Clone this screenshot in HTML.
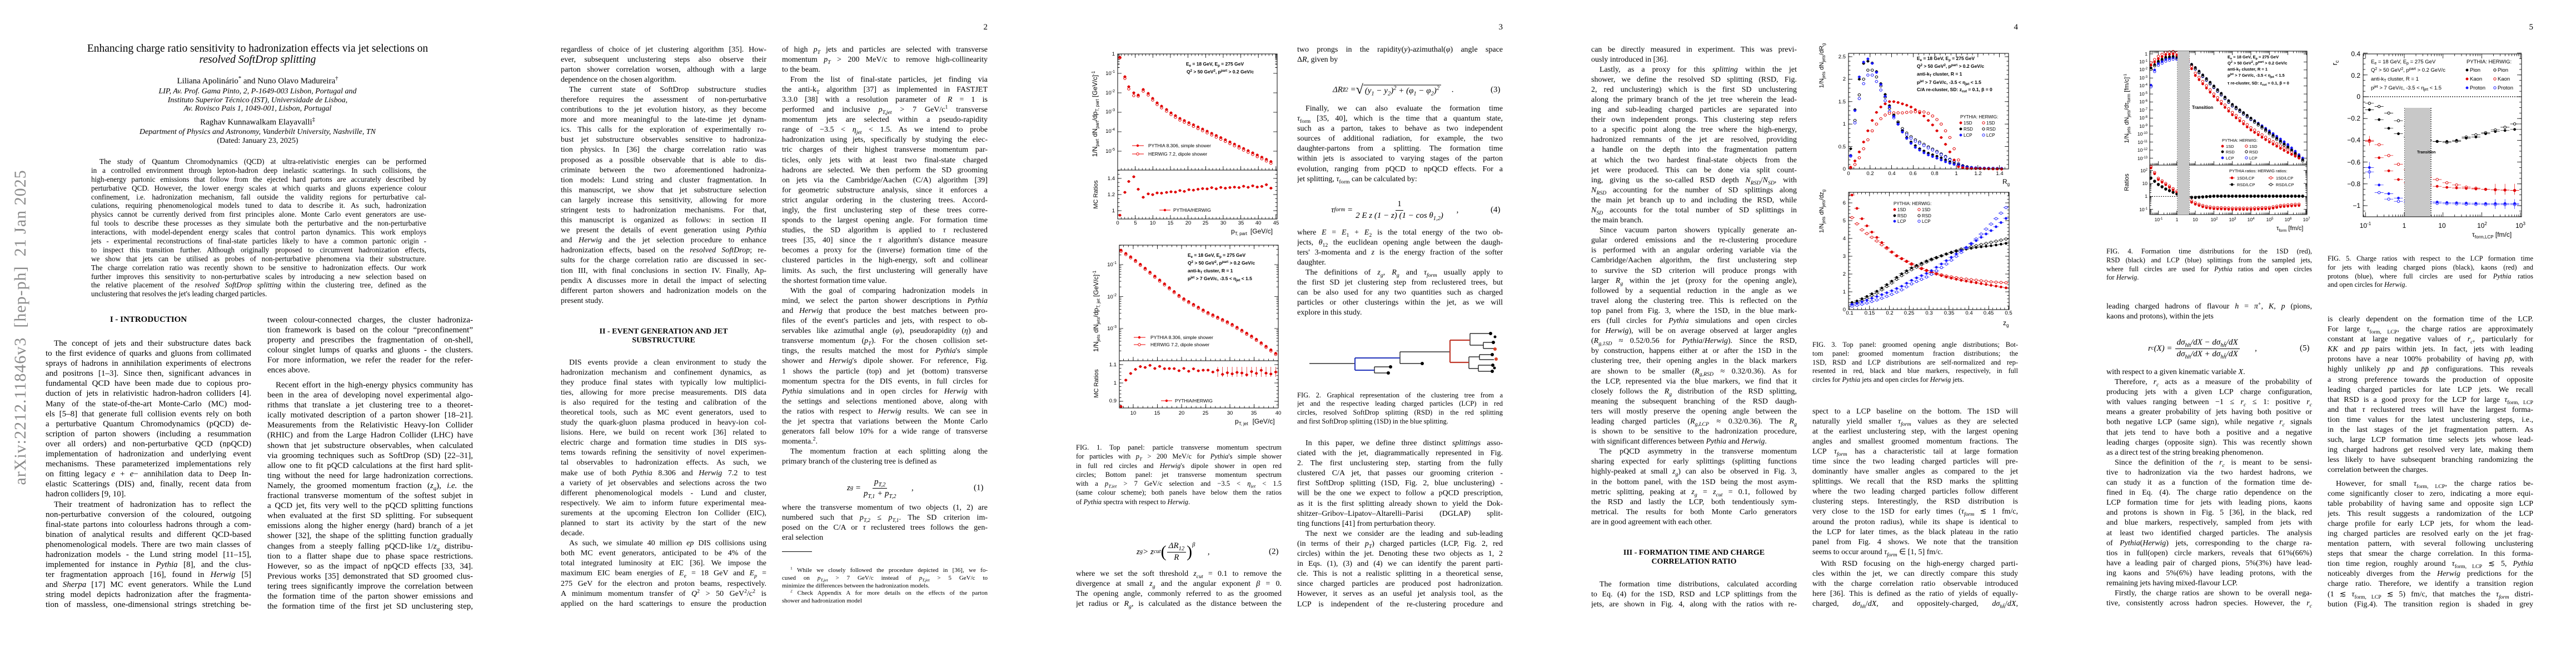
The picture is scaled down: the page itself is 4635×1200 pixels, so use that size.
<!DOCTYPE html>
<html><head><meta charset="utf-8">
<style>
body{margin:0;width:4635px;height:1200px;position:relative;background:#fff;overflow:hidden;font-family:"Liberation Serif",serif;color:#000}
.c{position:absolute;width:370px;font-size:14px;line-height:18.1px}
.c div{height:18.1px;overflow:hidden;text-align:justify;text-align-last:justify}
.c div.e{text-align-last:left}
.c div.i{text-indent:15px}
.p1{font-size:15px}
.cap{font-size:12.5px;line-height:15.8px}
.cap div{height:15.8px}
.fn{font-size:11px;line-height:13.8px}
.fn div{height:13.8px}
sub,sup{font-size:70%;line-height:0}
.a{position:absolute;white-space:nowrap}
.h{position:absolute;width:370px;text-align:center;font-weight:bold;font-size:14px;line-height:15.5px}
.pn{position:absolute;font-size:15px;width:30px;text-align:right;top:41px}
.eq{position:absolute;font-size:15px;white-space:nowrap;display:flex;align-items:center;transform:translateY(-50%);font-style:italic}
.eq .n{font-style:normal}
.fr{display:inline-flex;flex-direction:column;align-items:center;margin:0 5px}
.fr>span:first-child{border-bottom:1px solid #000;padding:0 3px 1px}
.fr>span{line-height:19px}
.en{position:absolute;font-size:15px;transform:translateY(-50%)}
svg text{font-family:"Liberation Sans",sans-serif}
</style></head><body>

<svg id="sv" width="4635" height="1200" style="position:absolute;left:0;top:0" xmlns="http://www.w3.org/2000/svg">
<g id="g"></g>
<!-- FIG 1 page 3 -->
<g transform="translate(1854,0)" font-size="9.5">
<rect x="157" y="97" width="287" height="209" fill="none" stroke="#000"/>
<rect x="157" y="306" width="287" height="88" fill="none" stroke="#000"/>
<g text-anchor="end"><text x="152" y="100">1</text><text x="152" y="135">10<tspan dy="-4" font-size="7">-1</tspan></text><text x="152" y="170">10<tspan dy="-4" font-size="7">-2</tspan></text><text x="152" y="204">10<tspan dy="-4" font-size="7">-3</tspan></text><text x="152" y="239">10<tspan dy="-4" font-size="7">-4</tspan></text><text x="152" y="275">10<tspan dy="-4" font-size="7">-5</tspan></text>
<text x="152" y="324">1.4</text><text x="152" y="353">1.2</text><text x="152" y="382">1</text></g>
<g text-anchor="middle"><text x="157" y="404">0</text><text x="189" y="404">5</text><text x="220" y="404">10</text><text x="252" y="404">15</text><text x="284" y="404">20</text><text x="315" y="404">25</text><text x="347" y="404">30</text><text x="379" y="404">35</text><text x="410" y="404">40</text><text x="442" y="404">45</text></g>
<text x="361" y="420" font-size="12">p<tspan font-size="8" dy="3">T, part</tspan><tspan dy="-3" dx="6">[GeV/c]</tspan></text>
<text transform="translate(120,205) rotate(-90)" text-anchor="middle" font-size="12">1/N<tspan font-size="8" dy="3">part</tspan><tspan dy="-3"> dN</tspan><tspan font-size="8" dy="3">part</tspan><tspan dy="-3">/dp</tspan><tspan font-size="8" dy="3">T, part</tspan><tspan dy="-3">  [GeV/c]</tspan><tspan font-size="8" dy="-4">-1</tspan></text>
<text transform="translate(121,350) rotate(-90)" text-anchor="middle" font-size="11">MC Ratios</text>
<g font-weight="bold" font-size="8.5"><text x="280" y="118">E<tspan font-size="6" dy="2">e</tspan><tspan dy="-2"> = 18 GeV, E</tspan><tspan font-size="6" dy="2">p</tspan><tspan dy="-2"> = 275 GeV</tspan></text><text x="281" y="132">Q<tspan font-size="6" dy="-3">2</tspan><tspan dy="3"> &gt; 50 GeV</tspan><tspan font-size="6" dy="-3">2</tspan><tspan dy="3">, p</tspan><tspan font-size="6" dy="-3">part</tspan><tspan dy="3"> &gt; 0.2 GeV/c</tspan></text></g>
<g font-size="8.5"><line x1="183" y1="262" x2="204" y2="262" stroke="#e00"/><circle cx="193" cy="262" r="2.2" fill="#e00"/><text x="212" y="265">PYTHIA 8.306, simple shower</text>
<line x1="183" y1="277" x2="204" y2="277" stroke="#e00"/><circle cx="193" cy="277" r="2.2" fill="#fff" stroke="#e00"/><text x="212" y="280">HERWIG 7.2, dipole shower</text>
<line x1="232" y1="378" x2="252" y2="378" stroke="#e00"/><circle cx="242" cy="378" r="2.2" fill="#e00"/><text x="257" y="381">PYTHIA/HERWIG</text></g>

<rect x="160" y="441" width="286" height="208" fill="none" stroke="#000"/>
<rect x="160" y="649" width="286" height="85" fill="none" stroke="#000"/>
<g text-anchor="end"><text x="155" y="479">10<tspan dy="-4" font-size="7">-1</tspan></text><text x="155" y="537">10<tspan dy="-4" font-size="7">-2</tspan></text><text x="155" y="594">10<tspan dy="-4" font-size="7">-3</tspan></text>
<text x="155" y="659">1.1</text><text x="155" y="692">1</text><text x="155" y="724">0.9</text></g>
<g text-anchor="middle"><text x="185" y="746">10</text><text x="228" y="746">15</text><text x="272" y="746">20</text><text x="315" y="746">25</text><text x="359" y="746">30</text><text x="402" y="746">35</text><text x="446" y="746">40</text></g>
<text x="368" y="762" font-size="12">p<tspan font-size="8" dy="3">T, jet</tspan><tspan dy="-3" dx="8">[GeV/c]</tspan></text>
<text transform="translate(122,560) rotate(-90)" text-anchor="middle" font-size="12">1/N<tspan font-size="8" dy="3">jets</tspan><tspan dy="-3"> dN</tspan><tspan font-size="8" dy="3">jets</tspan><tspan dy="-3">/dp</tspan><tspan font-size="8" dy="3">T, jet</tspan><tspan dy="-3">  [GeV/c]</tspan><tspan font-size="8" dy="-4">-1</tspan></text>
<text transform="translate(122,690) rotate(-90)" text-anchor="middle" font-size="11">MC Ratios</text>
<g font-weight="bold" font-size="8.5"><text x="283" y="462">E<tspan font-size="6" dy="2">e</tspan><tspan dy="-2"> = 18 GeV, E</tspan><tspan font-size="6" dy="2">p</tspan><tspan dy="-2"> = 275 GeV</tspan></text><text x="283" y="476">Q<tspan font-size="6" dy="-3">2</tspan><tspan dy="3"> &gt; 50 GeV</tspan><tspan font-size="6" dy="-3">2</tspan><tspan dy="3">, p</tspan><tspan font-size="6" dy="-3">part</tspan><tspan dy="3"> &gt; 0.2 GeV/c</tspan></text><text x="283" y="490">anti-k<tspan font-size="6" dy="2">T</tspan><tspan dy="-2"> cluster, R = 1</tspan></text><text x="283" y="504">p<tspan font-size="6" dy="-3">jet</tspan><tspan dy="3"> &gt; 7 GeV/c, -3.5 &lt; η</tspan><tspan font-size="6" dy="2">jet</tspan><tspan dy="-2"> &lt; 1.5</tspan></text></g>
<g font-size="8.5"><line x1="186" y1="607" x2="207" y2="607" stroke="#e00"/><circle cx="196" cy="607" r="2.2" fill="#e00"/><text x="216" y="610">PYTHIA 8.306, simple shower</text>
<line x1="186" y1="620" x2="207" y2="620" stroke="#e00"/><circle cx="196" cy="620" r="2.2" fill="#fff" stroke="#e00"/><text x="216" y="623">HERWIG 7.2, dipole shower</text>
<line x1="235" y1="721" x2="255" y2="721" stroke="#e00"/><circle cx="245" cy="721" r="2.2" fill="#e00"/><text x="260" y="724">PYTHIA/HERWIG</text></g>

<!-- FIG 2 tree -->
<g stroke-width="1.2" stroke="#000" fill="none">
<path d="M502 654H584"/><path d="M619 660V671M619 660H648M619 671H644M665 633V654M665 654H705M665 633H755"/>
<path d="M791 600V621M791 600H826M791 621H815M815 616V627M815 616H833M815 627H834"/>
<path d="M789 642V663M789 642H808M808 638V647M808 638H831M808 647H834M789 663H806M806 657V668M806 657H832M806 668H831"/>
<path d="M584 644V666M584 644H665M584 666H619" stroke="#2233bb" stroke-width="2"/>
<path d="M755 612V652M755 612H791M755 652H789" stroke="#c0392b" stroke-width="2.2"/>
</g>
<g fill="#000"><circle cx="648" cy="660" r="3"/><circle cx="644" cy="671" r="3"/><circle cx="705" cy="654" r="3"/><circle cx="828" cy="600" r="3"/><circle cx="836" cy="606" r="2.5"/><circle cx="833" cy="616" r="3"/><circle cx="831" cy="638" r="3"/><circle cx="832" cy="657" r="3"/><circle cx="831" cy="668" r="3"/><circle cx="835" cy="662" r="2.5"/><circle cx="836" cy="628" r="3" fill="#d9452b"/><circle cx="838" cy="646" r="3" fill="#d9452b"/></g>
</g>

<!-- FIG 3 page 4 -->
<g transform="translate(2781,0)" font-size="9.5">
<rect x="545" y="96" width="288" height="208" fill="none" stroke="#000"/>
<rect x="545" y="346" width="289" height="211" fill="none" stroke="#000"/>
<g text-anchor="end"><text x="540" y="105">2.5</text><text x="540" y="145">2</text><text x="540" y="186">1.5</text><text x="540" y="226">1</text><text x="540" y="267">0.5</text><text x="540" y="307">0</text>
<text x="540" y="368">6</text><text x="540" y="400">5</text><text x="540" y="432">4</text><text x="540" y="464">3</text><text x="540" y="496">2</text><text x="540" y="528">1</text><text x="540" y="560">0</text></g>
<g text-anchor="middle"><text x="545" y="315">0</text><text x="584" y="315">0.2</text><text x="623" y="315">0.4</text><text x="661" y="315">0.6</text><text x="700" y="315">0.8</text><text x="739" y="315">1</text><text x="778" y="315">1.2</text><text x="817" y="315">1.4</text>
<text x="547" y="566">0.1</text><text x="583" y="566">0.15</text><text x="619" y="566">0.2</text><text x="654" y="566">0.25</text><text x="690" y="566">0.3</text><text x="726" y="566">0.35</text><text x="762" y="566">0.4</text><text x="797" y="566">0.45</text><text x="833" y="566">0.5</text></g>
<text x="822" y="331" font-size="12">R<tspan font-size="8" dy="3">g</tspan></text>
<text x="823" y="585" font-size="12">z<tspan font-size="8" dy="3">g</tspan></text>
<text transform="translate(500,118) rotate(-90)" text-anchor="middle" font-size="11">1/N<tspan font-size="8" dy="3">jets</tspan><tspan dy="-3"> dN</tspan><tspan font-size="8" dy="3">jets</tspan><tspan dy="-3">/dR</tspan><tspan font-size="8" dy="3">g</tspan></text>
<text transform="translate(500,380) rotate(-90)" text-anchor="middle" font-size="11">1/N<tspan font-size="8" dy="3">jets</tspan><tspan dy="-3"> dN</tspan><tspan font-size="8" dy="3">jets</tspan><tspan dy="-3">/dz</tspan><tspan font-size="8" dy="3">g</tspan></text>
<g font-weight="bold" font-size="8.5"><text x="668" y="108">E<tspan font-size="6" dy="2">e</tspan><tspan dy="-2"> = 18 GeV, E</tspan><tspan font-size="6" dy="2">p</tspan><tspan dy="-2"> = 275 GeV</tspan></text><text x="668" y="122">Q<tspan font-size="6" dy="-3">2</tspan><tspan dy="3"> &gt; 50 GeV</tspan><tspan font-size="6" dy="-3">2</tspan><tspan dy="3">, p</tspan><tspan font-size="6" dy="-3">part</tspan><tspan dy="3"> &gt; 0.2 GeV/c</tspan></text><text x="668" y="136">anti-k<tspan font-size="6" dy="2">T</tspan><tspan dy="-2"> cluster, R = 1</tspan></text><text x="668" y="151">p<tspan font-size="6" dy="-3">jet</tspan><tspan dy="3"> &gt; 7 GeV/c, -3.5 &lt; η</tspan><tspan font-size="6" dy="2">jet</tspan><tspan dy="-2"> &lt; 1.5</tspan></text><text x="668" y="164">C/A re-cluster, SD: z<tspan font-size="6" dy="2">cut</tspan><tspan dy="-2"> = 0.1, β = 0</tspan></text></g>
<g font-size="8"><text x="746" y="213">PYTHIA: HERWIG:</text><text x="752" y="224">1SD</text><text x="752" y="235">RSD</text><text x="752" y="246">LCP</text><text x="793" y="224">1SD</text><text x="793" y="235">RSD</text><text x="793" y="246">LCP</text>
<text x="626" y="369">PYTHIA:  HERWIG:</text><text x="633" y="380">1SD</text><text x="633" y="391">RSD</text><text x="633" y="401">LCP</text><text x="677" y="380">1SD</text><text x="677" y="391">RSD</text><text x="677" y="401">LCP</text></g>
</g>

<!-- FIG 4 page 5 -->
<g transform="translate(3708,0)" font-size="9">
<rect x="160" y="92" width="283" height="205" fill="none" stroke="#000"/>
<rect x="160" y="297" width="283" height="89" fill="none" stroke="#000"/>
<rect x="210" y="92" width="21" height="294" fill="#c8c8c8"/>
<g text-anchor="end" font-size="8.5"><text x="156" y="100">1</text><text x="156" y="114">10<tspan dy="-3" font-size="6">-1</tspan></text><text x="156" y="128">10<tspan dy="-3" font-size="6">-2</tspan></text><text x="156" y="143">10<tspan dy="-3" font-size="6">-3</tspan></text><text x="156" y="157">10<tspan dy="-3" font-size="6">-4</tspan></text><text x="156" y="172">10<tspan dy="-3" font-size="6">-5</tspan></text><text x="156" y="186">10<tspan dy="-3" font-size="6">-6</tspan></text><text x="156" y="201">10<tspan dy="-3" font-size="6">-7</tspan></text><text x="156" y="215">10<tspan dy="-3" font-size="6">-8</tspan></text><text x="156" y="230">10<tspan dy="-3" font-size="6">-9</tspan></text><text x="156" y="244">10<tspan dy="-3" font-size="6">-10</tspan></text><text x="156" y="259">10<tspan dy="-3" font-size="6">-11</tspan></text><text x="156" y="273">10<tspan dy="-3" font-size="6">-12</tspan></text><text x="156" y="288">10<tspan dy="-3" font-size="6">-13</tspan></text>
<text x="156" y="310">10<tspan dy="-3" font-size="6">2</tspan></text><text x="156" y="333">10</text><text x="156" y="356">1</text><text x="156" y="380">10<tspan dy="-3" font-size="6">-1</tspan></text></g>
<g text-anchor="middle" font-size="8.5"><text x="176" y="398">10<tspan dy="-3" font-size="6">-1</tspan></text><text x="209" y="398">1</text><text x="242" y="398">10</text><text x="276" y="398">10<tspan dy="-3" font-size="6">2</tspan></text><text x="309" y="398">10<tspan dy="-3" font-size="6">3</tspan></text><text x="342" y="398">10<tspan dy="-3" font-size="6">4</tspan></text><text x="376" y="398">10<tspan dy="-3" font-size="6">5</tspan></text><text x="409" y="398">10<tspan dy="-3" font-size="6">6</tspan></text><text x="442" y="398">10<tspan dy="-3" font-size="6">7</tspan></text></g>
<text x="388" y="414" font-size="11">τ<tspan font-size="7" dy="3">form</tspan><tspan dy="-3"> [fm/c]</tspan></text>
<text transform="translate(122,195) rotate(-90)" text-anchor="middle" font-size="11">1/N<tspan font-size="8" dy="3">jets</tspan><tspan dy="-3"> dN</tspan><tspan font-size="8" dy="3">jets</tspan><tspan dy="-3">/dτ</tspan><tspan font-size="8" dy="3">form</tspan><tspan dy="-3">  [fm/c]</tspan><tspan font-size="7" dy="-4">-1</tspan></text>
<text transform="translate(122,328) rotate(-90)" text-anchor="middle" font-size="11">Ratios</text>
<text x="236" y="196" font-size="8" font-weight="bold">Transition</text>
<g font-weight="bold" font-size="7.5"><text x="300" y="105">E<tspan font-size="5.5" dy="2">e</tspan><tspan dy="-2"> = 18 GeV, E</tspan><tspan font-size="5.5" dy="2">p</tspan><tspan dy="-2"> = 275 GeV</tspan></text><text x="300" y="116">Q<tspan font-size="5.5" dy="-3">2</tspan><tspan dy="3"> &gt; 50 GeV</tspan><tspan font-size="5.5" dy="-3">2</tspan><tspan dy="3">, p</tspan><tspan font-size="5.5" dy="-3">part</tspan><tspan dy="3"> &gt; 0.2 GeV/c</tspan></text><text x="300" y="127">anti-k<tspan font-size="5.5" dy="2">T</tspan><tspan dy="-2"> cluster, R = 1</tspan></text><text x="300" y="138">p<tspan font-size="5.5" dy="-3">jet</tspan><tspan dy="3"> &gt; 7 GeV/c, -3.5 &lt; η</tspan><tspan font-size="5.5" dy="2">jet</tspan><tspan dy="-2"> &lt; 1.5</tspan></text><text x="300" y="152">τ re-cluster, SD: z<tspan font-size="5.5" dy="2">cut</tspan><tspan dy="-2"> = 0.1, β = 0</tspan></text></g>
<g font-size="7.5"><text x="290" y="255">PYTHIA: HERWIG:</text><text x="297" y="266">1SD</text><text x="297" y="276">RSD</text><text x="297" y="287">LCP</text><text x="339" y="266">1SD</text><text x="339" y="276">RSD</text><text x="339" y="287">LCP</text>
<text x="303" y="310">PYTHIA ratios:  HERWIG ratios:</text><text x="317" y="323">1SD/LCP</text><text x="317" y="335">RSD/LCP</text><text x="387" y="323">1SD/LCP</text><text x="387" y="335">RSD/LCP</text></g>
</g>

<!-- FIG 5 page 5 -->
<g transform="translate(3708,0)" font-size="12">
<rect x="619" y="194" width="46" height="196" fill="#c8c8c8"/>
<rect x="544" y="97" width="285" height="293" fill="none" stroke="#000"/>
<g text-anchor="end"><text x="539" y="101">0.4</text><text x="539" y="140">0.2</text><text x="539" y="178">0</text><text x="539" y="217">−0.2</text><text x="539" y="256">−0.4</text><text x="539" y="296">−0.6</text><text x="539" y="335">−0.8</text><text x="539" y="374">−1</text></g>
<g text-anchor="middle"><text x="548" y="410">10<tspan dy="-5" font-size="8">-1</tspan></text><text x="618" y="410">1</text><text x="686" y="410">10</text><text x="758" y="410">10<tspan dy="-5" font-size="8">2</tspan></text><text x="827" y="410">10<tspan dy="-5" font-size="8">3</tspan></text></g>
<text x="740" y="426" font-size="12">τ<tspan font-size="8" dy="3">form,LCP</tspan><tspan dy="-3"> [fm/c]</tspan></text>
<text transform="translate(497,113) rotate(-90)" text-anchor="middle" font-size="13">r<tspan font-size="9" dy="3">c</tspan></text>
<text x="641" y="276" font-size="7" font-weight="bold">Transition</text>
<g font-size="9.5"><text x="558" y="114">E<tspan font-size="7" dy="2">e</tspan><tspan dy="-2"> = 18 GeV, E</tspan><tspan font-size="7" dy="2">p</tspan><tspan dy="-2"> = 275 GeV</tspan></text><text x="558" y="129">Q<tspan font-size="7" dy="-3">2</tspan><tspan dy="3"> &gt; 50 GeV</tspan><tspan font-size="7" dy="-3">2</tspan><tspan dy="3">, p</tspan><tspan font-size="7" dy="-3">part</tspan><tspan dy="3"> &gt; 0.2 GeV/c</tspan></text><text x="558" y="145">anti-k<tspan font-size="7" dy="2">T</tspan><tspan dy="-2"> cluster, R = 1</tspan></text><text x="558" y="161">p<tspan font-size="7" dy="-3">jet</tspan><tspan dy="3"> &gt; 7 GeV/c, -3.5 &lt; η</tspan><tspan font-size="7" dy="2">jet</tspan><tspan dy="-2"> &lt; 1.5</tspan></text>
<text x="730" y="114">PYTHIA:  HERWIG:</text><text x="736" y="129">Pion</text><text x="736" y="145">Kaon</text><text x="736" y="161">Proton</text><text x="786" y="129">Pion</text><text x="786" y="145">Kaon</text><text x="786" y="161">Proton</text></g>
</g>
</svg>

<!-- sidebar -->
<div class="a" style="left:37px;top:589px;transform:translate(-50%,-50%) rotate(-90deg);font-size:30px;color:#8a8a8a;letter-spacing:1px">arXiv:2212.11846v3&nbsp; [hep-ph]&nbsp; 21 Jan 2025</div>

<!-- PAGE 1 -->
<div class="a" style="left:0;width:927px;text-align:center;top:78px;font-size:19.5px;line-height:20px">Enhancing charge ratio sensitivity to hadronization effects via jet selections on<br><i>resolved SoftDrop splitting</i></div>
<div class="a" style="left:0;width:927px;text-align:center;top:138px;font-size:15px;line-height:16px">Liliana Apolinário<sup>*</sup> and Nuno Olavo Madureira<sup>†</sup></div>
<div class="a" style="left:0;width:927px;text-align:center;top:157px;font-size:14px;line-height:15.5px;font-style:italic">LIP, Av. Prof. Gama Pinto, 2, P-1649-003 Lisbon, Portugal and<br>Instituto Superior Técnico (IST), Universidade de Lisboa,<br>Av. Rovisco Pais 1, 1049-001, Lisbon, Portugal</div>
<div class="a" style="left:0;width:927px;text-align:center;top:212px;font-size:15px;line-height:16px">Raghav Kunnawalkam Elayavalli<sup>‡</sup></div>
<div class="a" style="left:0;width:927px;text-align:center;top:230px;font-size:14px;line-height:16px"><i>Department of Physics and Astronomy, Vanderbilt University, Nashville, TN</i><br>(Dated: January 23, 2025)</div>
<div class="c" style="left:164px;top:283px;width:603px;font-size:13.2px;line-height:15.9px">
<div class="i" style="height:15.9px">The study of Quantum Chromodynamics (QCD) at ultra-relativistic energies can be performed</div>
<div style="height:15.9px">in a controlled environment through lepton-hadron deep inelastic scatterings. In such collisions, the</div>
<div style="height:15.9px">high-energy partonic emissions that follow from the ejected hard partons are accurately described by</div>
<div style="height:15.9px">perturbative QCD. However, the lower energy scales at which quarks and gluons experience colour</div>
<div style="height:15.9px">confinement, i.e. hadronization mechanism, fall outside the validity regions for perturbative cal-</div>
<div style="height:15.9px">culations, requiring phenomenological models tuned to data to describe it. As such, hadronization</div>
<div style="height:15.9px">physics cannot be currently derived from first principles alone. Monte Carlo event generators are use-</div>
<div style="height:15.9px">ful tools to describe these processes as they simulate both the perturbative and the non-perturbative</div>
<div style="height:15.9px">interactions, with model-dependent energy scales that control parton dynamics. This work employs</div>
<div style="height:15.9px">jets - experimental reconstructions of final-state particles likely to have a common partonic origin -</div>
<div style="height:15.9px">to inspect this transition further. Although originally proposed to circumvent hadronization effects,</div>
<div style="height:15.9px">we show that jets can be utilised as probes of non-perturbative phenomena via their substructure.</div>
<div style="height:15.9px">The charge correlation ratio was recently shown to be sensitive to hadronization effects. Our work</div>
<div style="height:15.9px">further improves this sensitivity to non-perturbative scales by introducing a new selection based on</div>
<div style="height:15.9px">the relative placement of the <i>resolved SoftDrop splitting</i> within the clustering tree, defined as the</div>
<div class="e" style="height:15.9px">unclustering that resolves the jet's leading charged particles.</div>
</div>
<div class="h" style="left:82px;top:568px;font-size:15px">I - INTRODUCTION</div>
<div class="c p1" style="left:82px;top:609px">
<div class="i">The concept of jets and their substructure dates back</div>
<div>to the first evidence of quarks and gluons from collimated</div>
<div>sprays of hadrons in annihilation experiments of electrons</div>
<div>and positrons [1–3]. Since then, significant advances in</div>
<div>fundamental QCD have been made due to copious pro-</div>
<div>duction of jets in relativistic hadron-hadron colliders [4].</div>
<div>Many of the state-of-the-art Monte-Carlo (MC) mod-</div>
<div>els [5–8] that generate full collision events rely on both</div>
<div>a perturbative Quantum Chromodynamics (pQCD) de-</div>
<div>scription of parton showers (including a resummation</div>
<div>over all orders) and non-perturbative QCD (npQCD)</div>
<div>implementation of hadronization and underlying event</div>
<div>mechanisms. These parameterized implementations rely</div>
<div>on fitting legacy <i>e</i> + <i>e</i>− annihilation data to Deep In-</div>
<div>elastic Scatterings (DIS) and, finally, recent data from</div>
<div class="e">hadron colliders [9, 10].</div>
<div class="i">Their treatment of hadronization has to reflect the</div>
<div>non-perturbative conversion of the coloured, outgoing</div>
<div>final-state partons into colourless hadrons through a com-</div>
<div>bination of analytical results and different QCD-based</div>
<div>phenomenological models. There are two main classes of</div>
<div>hadronization models - the Lund string model [11–15],</div>
<div>implemented for instance in <i>Pythia</i> [8], and the clus-</div>
<div>ter fragmentation approach [16], found in <i>Herwig</i> [5]</div>
<div>and <i>Sherpa</i> [17] MC event generators. While the Lund</div>
<div>string model depicts hadronization after the fragmenta-</div>
<div>tion of massless, one-dimensional strings stretching be-</div>
</div>
<div class="c p1" style="left:481px;top:567px">
<div>tween colour-connected charges, the cluster hadroniza-</div>
<div>tion framework is based on the colour “preconfinement”</div>
<div>property and prescribes the fragmentation of on-shell,</div>
<div>colour singlet lumps of quarks and gluons - the clusters.</div>
<div>For more information, we refer the reader for the refer-</div>
<div class="e">ences above.</div>
</div>
<div class="c p1" style="left:481px;top:684px">
<div class="i">Recent effort in the high-energy physics community has</div>
<div>been in the area of developing novel experimental algo-</div>
<div>rithms that translate a jet clustering tree to a theoret-</div>
<div>ically motivated description of a parton shower [18–21].</div>
<div>Measurements from the Relativistic Heavy-Ion Collider</div>
<div>(RHIC) and from the Large Hadron Collider (LHC) have</div>
<div>shown that jet substructure observables, when calculated</div>
<div>via grooming techniques such as SoftDrop (SD) [22–31],</div>
<div>allow one to fit pQCD calculations at the first hard split-</div>
<div>ting without the need for large hadronization corrections.</div>
<div>Namely, the groomed momentum fraction (<i>z<sub>g</sub></i>), <i>i.e.</i> the</div>
<div>fractional transverse momentum of the softest subjet in</div>
<div>a QCD jet, fits very well to the pQCD splitting functions</div>
<div>when evaluated at the first SD splitting. For subsequent</div>
<div>emissions along the higher energy (hard) branch of a jet</div>
<div>shower [32], the shape of the splitting function gradually</div>
<div>changes from a steeply falling pQCD-like 1/<i>z<sub>g</sub></i> distribu-</div>
<div>tion to a flatter shape due to phase space restrictions.</div>
<div>However, so as the impact of npQCD effects [33, 34].</div>
<div>Previous works [35] demonstrated that SD groomed clus-</div>
<div>tering trees significantly improve the correlation between</div>
<div>the formation time of the parton shower emissions and</div>
<div>the formation time of the first jet SD unclustering step,</div>
</div>

<!-- PAGE 2 -->
<div class="pn" style="left:1747px">2</div>
<div class="c" style="left:1009px;top:80.5px">
<div>regardless of choice of jet clustering algorithm [35]. How-</div>
<div>ever, subsequent unclustering steps also observe their</div>
<div>parton shower correlation worsen, although with a large</div>
<div class="e">dependence on the chosen algorithm.</div>
<div class="i">The current state of SoftDrop substructure studies</div>
<div>therefore requires the assessment of non-perturbative</div>
<div>contributions to the jet evolution history, as they become</div>
<div>more and more meaningful to the late-time jet dynam-</div>
<div>ics. This calls for the exploration of experimentally ro-</div>
<div>bust jet substructure observables sensitive to hadroniza-</div>
<div>tion physics. In [36] the charge correlation ratio was</div>
<div>proposed as a possible observable that is able to dis-</div>
<div>criminate between the two aforementioned hadroniza-</div>
<div>tion models: Lund string and cluster fragmentation. In</div>
<div>this manuscript, we show that jet substructure selection</div>
<div>can largely increase this sensitivity, allowing for more</div>
<div>stringent tests to hadronization mechanisms. For that,</div>
<div>this manuscript is organized as follows: in section II</div>
<div>we present the details of event generation using <i>Pythia</i></div>
<div>and <i>Herwig</i> and the jet selection procedure to enhance</div>
<div>hadronization effects, based on the <i>resolved SoftDrop</i>; re-</div>
<div>sults for the charge correlation ratio are discussed in sec-</div>
<div>tion III, with final conclusions in section IV. Finally, Ap-</div>
<div>pendix A discusses more in detail the impact of selecting</div>
<div>different parton showers and hadronization models on the</div>
<div class="e">present study.</div>
</div>
<div class="h" style="left:1009px;top:589px">II - EVENT GENERATION AND JET<br>SUBSTRUCTURE</div>
<div class="c" style="left:1009px;top:643.5px">
<div class="i">DIS events provide a clean environment to study the</div>
<div>hadronization mechanism and confinement dynamics, as</div>
<div>they produce final states with typically low multiplici-</div>
<div>ties, allowing for more precise measurements. DIS data</div>
<div>is also required for the testing and calibration of the</div>
<div>theoretical tools, such as MC event generators, used to</div>
<div>study the quark-gluon plasma produced in heavy-ion col-</div>
<div>lisions. Here, we build on recent work [36] related to</div>
<div>electric charge and formation time studies in DIS sys-</div>
<div>tems towards refining the sensitivity of novel experimen-</div>
<div>tal observables to hadronization effects. As such, we</div>
<div>make use of both <i>Pythia</i> 8.306 and <i>Herwig</i> 7.2 to test</div>
<div>a variety of jet observables and selections across the two</div>
<div>different phenomenological models - Lund and cluster,</div>
<div>respectively. We aim to inform future experimental mea-</div>
<div>surements at the upcoming Electron Ion Collider (EIC),</div>
<div>planned to start its activity by the start of the new</div>
<div class="e">decade.</div>
<div class="i">As such, we simulate 40 million <i>ep</i> DIS collisions using</div>
<div>both MC event generators, anticipated to be 4% of the</div>
<div>total integrated luminosity at EIC [36]. We impose the</div>
<div>maximum EIC beam energies of <i>E<sub>e</sub></i> = 18 GeV and <i>E<sub>p</sub></i> =</div>
<div>275 GeV for the electron and proton beams, respectively.</div>
<div>A minimum momentum transfer of <i>Q</i><sup>2</sup> &gt; 50 GeV<sup>2</sup>/c<sup>2</sup> is</div>
<div>applied on the hard scatterings to ensure the production</div>
</div>
<div class="c" style="left:1407px;top:80.5px">
<div>of high <i>p<sub>T</sub></i> jets and particles are selected with transverse</div>
<div>momentum <i>p<sub>T</sub></i> &gt; 200 MeV/c to remove high-collinearity</div>
<div class="e">to the beam.</div>
<div class="i">From the list of final-state particles, jet finding via</div>
<div>the anti-k<sub>T</sub> algorithm [37] as implemented in FASTJET</div>
<div>3.3.0 [38] with a resolution parameter of <i>R</i> = 1 is</div>
<div>performed and inclusive <i>p<sub>T,jet</sub></i> &gt; 7 GeV/c<sup>1</sup> transverse</div>
<div>momentum jets are selected within a pseudo-rapidity</div>
<div>range of −3.5 &lt; <i>η<sub>jet</sub></i> &lt; 1.5. As we intend to probe</div>
<div>hadronization using jets, specifically by studying the elec-</div>
<div>tric charges of their highest transverse momentum par-</div>
<div>ticles, only jets with at least two final-state charged</div>
<div>hadrons are selected. We then perform the SD grooming</div>
<div>on jets via the Cambridge/Aachen (C/A) algorithm [39]</div>
<div>for geometric substructure analysis, since it enforces a</div>
<div>strict angular ordering in the clustering trees. Accord-</div>
<div>ingly, the first unclustering step of these trees corre-</div>
<div>sponds to the largest opening angle. For formation time</div>
<div>studies, the SD algorithm is applied to <i>τ</i> reclustered</div>
<div>trees [35, 40] since the <i>τ</i> algorithm's distance measure</div>
<div>becomes a proxy for the (inverse) formation time of the</div>
<div>clustered particles in the high-energy, soft and collinear</div>
<div>limits. As such, the first unclustering will generally have</div>
<div class="e">the shortest formation time value.</div>
<div class="i">With the goal of comparing hadronization models in</div>
<div>mind, we select the parton shower descriptions in <i>Pythia</i></div>
<div>and <i>Herwig</i> that produce the best matches between pro-</div>
<div>files of the event's particles and jets, with respect to ob-</div>
<div>servables like azimuthal angle (<i>φ</i>), pseudorapidity (<i>η</i>) and</div>
<div>transverse momentum (<i>p<sub>T</sub></i>). For the chosen collision set-</div>
<div>tings, the results matched the most for <i>Pythia</i>'s simple</div>
<div>shower and <i>Herwig</i>'s dipole shower. For reference, Fig.</div>
<div>1 shows the particle (top) and jet (bottom) transverse</div>
<div>momentum spectra for the DIS events, in full circles for</div>
<div><i>Pythia</i> simulations and in open circles for <i>Herwig</i> with</div>
<div>the settings and selections mentioned above, along with</div>
<div>the ratios with respect to <i>Herwig</i> results. We can see in</div>
<div>the jet spectra that variations between the Monte Carlo</div>
<div>generators fall below 10% for a wide range of transverse</div>
<div class="e">momenta.<sup>2</sup>.</div>
<div class="i">The momentum fraction at each splitting along the</div>
<div class="e">primary branch of the clustering tree is defined as</div>
</div>
<div class="eq" style="left:1524px;top:878px">z<sub>g</sub>&nbsp;= <span class="fr"><span>p<sub>T,2</sub></span><span>p<sub>T,1</sub> + p<sub>T,2</sub></span></span><span class="n">&nbsp;&nbsp;&nbsp;&nbsp;&nbsp;&nbsp;,</span></div>
<div class="en" style="left:1752px;top:878px">(1)</div>
<div class="c" style="left:1407px;top:905px">
<div>where the transverse momentum of two objects (1, 2) are</div>
<div>numbered such that <i>p<sub>T,2</sub></i> ≤ <i>p<sub>T,1</sub></i>. The SD criterion im-</div>
<div>posed on the C/A or <i>τ</i> reclustered trees follows the gen-</div>
<div class="e">eral selection</div>
</div>
<div class="a" style="left:1407px;top:992px;width:54px;border-top:1px solid #000"></div>
<div class="c fn" style="left:1407px;top:1020px">
<div class="i"><sup>1</sup> While we closely followed the procedure depicted in [36], we fo-</div>
<div>cused on <i>p<sub>T,jet</sub></i> &gt; 7 GeV/c instead of <i>p<sub>T,jet</sub></i> &gt; 5 GeV/c to</div>
<div class="e">minimize the differences between the hadronization models.</div>
<div class="i"><sup>2</sup> Check Appendix A for more details on the effects of the parton</div>
<div class="e">shower and hadronization model</div>
</div>

<!-- PAGE 3 -->
<div class="pn" style="left:2674px">3</div>
<div class="c cap" style="left:1936px;top:797px;line-height:16.3px">
<div style="height:16.3px">FIG. 1. Top panel: particle transverse momentum spectrum</div>
<div style="height:16.3px">for particles with <i>p<sub>T</sub></i> &gt; 200 MeV/c for <i>Pythia</i>'s simple shower</div>
<div style="height:16.3px">in full red circles and <i>Herwig</i>'s dipole shower in open red</div>
<div style="height:16.3px">circles; Bottom panel: jet transverse momentum spectrum</div>
<div style="height:16.3px">with a <i>p<sub>T,jet</sub></i> &gt; 7 GeV/c selection and −3.5 &lt; <i>η<sub>jet</sub></i> &lt; 1.5</div>
<div style="height:16.3px">(same colour scheme); both panels have below them the ratios</div>
<div class="e" style="height:16.3px">of <i>Pythia</i> spectra with respect to <i>Herwig</i>.</div>
</div>
<div class="eq" style="left:2045px;top:993px">z<sub>g</sub> &gt; z<sub>cut</sub> <span style="font-size:30px;font-style:normal;font-weight:200">(</span><span class="fr" style="margin:0 1px"><span>ΔR<sub>12</sub></span><span>R</span></span><span style="font-size:30px;font-style:normal;font-weight:200">)</span><sup style="position:relative;top:-12px">β</sup><span class="n">&nbsp;&nbsp;&nbsp;&nbsp;&nbsp;&nbsp;,</span></div>
<div class="en" style="left:2283px;top:993px">(2)</div>
<div class="c" style="left:1936px;top:1024px">
<div>where we set the soft threshold <i>z<sub>cut</sub></i> = 0.1 to remove the</div>
<div>divergence at small <i>z<sub>g</sub></i> and the angular exponent <i>β</i> = 0.</div>
<div>The opening angle, commonly referred to as the groomed</div>
<div>jet radius or <i>R<sub>g</sub></i>, is calculated as the distance between the</div>
</div>
<div class="c" style="left:2334px;top:80.5px">
<div>two prongs in the rapidity(<i>y</i>)-azimuthal(<i>φ</i>) angle space</div>
<div class="e">Δ<i>R</i>, given by</div>
</div>
<div class="eq" style="left:2398px;top:162px">ΔR<sup>2</sup><sub style="margin-left:-6px">12</sub>&nbsp;= <span class="n" style="font-size:24px">√</span><span style="border-top:1px solid #000;padding:2px 3px 0">(y<sub>1</sub> − y<sub>2</sub>)<sup>2</sup> + (φ<sub>1</sub> − φ<sub>2</sub>)<sup>2</sup></span><span class="n">&nbsp;&nbsp;&nbsp;&nbsp;&nbsp;.</span></div>
<div class="en" style="left:2682px;top:162px">(3)</div>
<div class="c" style="left:2334px;top:187px">
<div class="i">Finally, we can also evaluate the formation time</div>
<div><i>τ</i><sub>form</sub> [35, 40], which is the time that a quantum state,</div>
<div>such as a parton, takes to behave as two independent</div>
<div>sources of additional radiation, for example, the two</div>
<div>daughter-partons from a splitting. The formation time</div>
<div>within jets is associated to varying stages of the parton</div>
<div>evolution, ranging from pQCD to npQCD effects. For a</div>
<div class="e">jet splitting, <i>τ</i><sub>form</sub> can be calculated by:</div>
</div>
<div class="eq" style="left:2395px;top:378px">τ<sub>form</sub>&nbsp;= <span class="fr"><span class="n">1</span><span>2 E z (1 − z) (1 − cos θ<sub>1,2</sub>)</span></span><span class="n">&nbsp;&nbsp;&nbsp;&nbsp;&nbsp;,</span></div>
<div class="en" style="left:2682px;top:378px">(4)</div>
<div class="c" style="left:2334px;top:409.5px">
<div>where <i>E</i> = <i>E</i><sub>1</sub> + <i>E</i><sub>2</sub> is the total energy of the two ob-</div>
<div>jects, <i>θ</i><sub>12</sub> the euclidean opening angle between the daugh-</div>
<div>ters' 3-momenta and <i>z</i> is the energy fraction of the softer</div>
<div class="e">daughter.</div>
<div class="i">The definitions of <i>z<sub>g</sub></i>, <i>R<sub>g</sub></i> and <i>τ<sub>form</sub></i> usually apply to</div>
<div>the first SD jet clustering step from reclustered trees, but</div>
<div>can be also used for any two quantities such as charged</div>
<div>particles or other clusterings within the jet, as we will</div>
<div class="e">explore in this study.</div>
</div>
<div class="c cap" style="left:2334px;top:703.5px">
<div>FIG. 2. Graphical representation of the clustering tree from a</div>
<div>jet and the respective leading charged particles (LCP) in red</div>
<div>circles, resolved SoftDrop splitting (RSD) in the red splitting</div>
<div class="e">and first SoftDrop splitting (1SD) in the blue splitting.</div>
</div>
<div class="c" style="left:2334px;top:789px">
<div class="i">In this paper, we define three distinct <i>splittings</i> asso-</div>
<div>ciated with the jet, diagrammatically represented in Fig.</div>
<div>2. The first unclustering step, starting from the fully</div>
<div>clustered C/A jet, that passes our grooming criterion -</div>
<div>first SoftDrop splitting (1SD, Fig. 2, blue unclustering) -</div>
<div>will be the one we expect to follow a pQCD prescription,</div>
<div>as it is the first splitting already shown to yield the Dok-</div>
<div>shitzer–Gribov–Lipatov–Altarelli–Parisi (DGLAP) split-</div>
<div class="e">ting functions [41] from perturbation theory.</div>
<div class="i">The next we consider are the leading and sub-leading</div>
<div>(in terms of their <i>p<sub>T</sub></i>) charged particles (LCP, Fig. 2, red</div>
<div>circles) within the jet. Denoting these two objects as 1, 2</div>
<div>in Eqs. (1), (3) and (4) we can identify the parent parti-</div>
<div>cle. This is not a realistic splitting in a theoretical sense,</div>
<div>since charged particles are produced post hadronization.</div>
<div>However, it serves as an useful jet analysis tool, as the</div>
<div>LCP is independent of the re-clustering procedure and</div>
</div>

<!-- PAGE 4 -->
<div class="pn" style="left:3601px">4</div>
<div class="c" style="left:2863px;top:80.5px">
<div>can be directly measured in experiment. This was previ-</div>
<div class="e">ously introduced in [36].</div>
<div class="i">Lastly, as a proxy for this <i>splitting</i> within the jet</div>
<div>shower, we define the resolved SD splitting (RSD, Fig.</div>
<div>2, red unclustering) which is the first SD unclustering</div>
<div>along the primary branch of the jet tree wherein the lead-</div>
<div>ing and sub-leading charged particles are separated into</div>
<div>their own independent prongs. This clustering step refers</div>
<div>to a specific point along the tree where the high-energy,</div>
<div>hadronized remnants of the jet are resolved, providing</div>
<div>a handle on the depth into the fragmentation pattern</div>
<div>at which the two hardest final-state objects from the</div>
<div>jet were produced. This can be done via split count-</div>
<div>ing, giving us the so-called RSD depth <i>N<sub>RSD</sub></i>/<i>N<sub>SD</sub></i>, with</div>
<div><i>N<sub>RSD</sub></i> accounting for the number of SD splittings along</div>
<div>the main jet branch up to and including the RSD, while</div>
<div><i>N<sub>SD</sub></i> accounts for the total number of SD splittings in</div>
<div class="e">the main branch.</div>
<div class="i">Since vacuum parton showers typically generate an-</div>
<div>gular ordered emissions and the re-clustering procedure</div>
<div>is performed with an angular ordering variable via the</div>
<div>Cambridge/Aachen algorithm, the first unclustering step</div>
<div>to survive the SD criterion will produce prongs with</div>
<div>larger <i>R<sub>g</sub></i> within the jet (proxy for the opening angle),</div>
<div>followed by a sequential reduction in the angle as we</div>
<div>travel along the clustering tree. This is reflected on the</div>
<div>top panel from Fig. 3, where the 1SD, in the blue mark-</div>
<div>ers (full circles for <i>Pythia</i> simulations and open circles</div>
<div>for <i>Herwig</i>), will be on average observed at larger angles</div>
<div>(<i>R<sub>g,1SD</sub></i> ≈ 0.52/0.56 for <i>Pythia</i>/<i>Herwig</i>). Since the RSD,</div>
<div>by construction, happens either at or after the 1SD in the</div>
<div>clustering tree, their opening angles in the black markers</div>
<div>are shown to be smaller (<i>R<sub>g,RSD</sub></i> ≈ 0.32/0.36). As for</div>
<div>the LCP, represented via the blue markers, we find that it</div>
<div>closely follows the <i>R<sub>g</sub></i> distribution of the RSD splitting,</div>
<div>meaning the subsequent branching of the RSD daugh-</div>
<div>ters will mostly preserve the opening angle between the</div>
<div>leading charged particles (<i>R<sub>g,LCP</sub></i> ≈ 0.32/0.36). The <i>R<sub>g</sub></i></div>
<div>is shown to be sensitive to the hadronization procedure,</div>
<div class="e">with significant differences between <i>Pythia</i> and <i>Herwig</i>.</div>
<div class="i">The pQCD asymmetry in the transverse momentum</div>
<div>sharing expected for early splittings (splitting functions</div>
<div>highly-peaked at small <i>z<sub>g</sub></i>) can also be observed in Fig. 3,</div>
<div>in the bottom panel, with the 1SD being the most asym-</div>
<div>metric splitting, peaking at <i>z<sub>g</sub></i> = <i>z<sub>cut</sub></i> = 0.1, followed by</div>
<div>the RSD and lastly the LCP, both tendentiously sym-</div>
<div>metrical. The results for both Monte Carlo generators</div>
<div class="e">are in good agreement with each other.</div>
</div>
<div class="h" style="left:2863px;top:987px">III - FORMATION TIME AND CHARGE<br>CORRELATION RATIO</div>
<div class="c" style="left:2863px;top:1043px">
<div class="i">The formation time distributions, calculated according</div>
<div>to Eq. (4) for the 1SD, RSD and LCP splittings from the</div>
<div>jets, are shown in Fig. 4, along with the ratios with re-</div>
</div>
<div class="c cap" style="left:3261px;top:613px">
<div>FIG. 3. Top panel: groomed opening angle distributions; Bot-</div>
<div>tom panel: groomed momentum fraction distributions; the</div>
<div>1SD, RSD and LCP distributions are self-normalized and rep-</div>
<div>resented in red, black and blue markers, respectively, in full</div>
<div class="e">circles for <i>Pythia</i> jets and open circles for <i>Herwig</i> jets.</div>
</div>
<div class="c" style="left:3261px;top:731.5px">
<div>spect to a LCP baseline on the bottom. The 1SD will</div>
<div>naturally yield smaller <i>τ<sub>form</sub></i> values as they are selected</div>
<div>at the earliest unclustering step, with the largest opening</div>
<div>angles and smallest groomed momentum fractions. The</div>
<div>LCP <i>τ<sub>form</sub></i> has a characteristic tail at large formation</div>
<div>time since the two leading charged particles will pre-</div>
<div>dominantly have smaller angles as compared to the jet</div>
<div>splittings. We recall that the RSD marks the splitting</div>
<div>where the two leading charged particles follow different</div>
<div>clustering steps. Interestingly, the RSD distribution is</div>
<div>very close to the 1SD for early times (<i>τ<sub>form</sub></i> ≲ 1 fm/c,</div>
<div>around the proton radius), while its shape is identical to</div>
<div>the LCP for later times, as the black plateau in the ratio</div>
<div>panel from Fig. 4 shows. We note that the transition</div>
<div class="e">seems to occur around <i>τ<sub>form</sub></i> ∈ [1, 5] fm/c.</div>
</div>
<div class="c" style="left:3261px;top:1006px">
<div class="i">With RSD focusing on the high-energy charged parti-</div>
<div>cles within the jet, we can directly compare this study</div>
<div>with the charge correlation ratio observable introduced</div>
<div>here [36]. This is defined as the ratio of yields of equally-</div>
<div>charged, <i>dσ<sub>hh</sub></i>/<i>dX</i>, and oppositely-charged, <i>dσ<sub>hh̄</sub></i>/<i>dX</i>,</div>
</div>

<!-- PAGE 5 -->
<div class="pn" style="left:4528px">5</div>
<div class="c cap" style="left:3790px;top:445px">
<div>FIG. 4. Formation time distributions for the 1SD (red),</div>
<div>RSD (black) and LCP (blue) splittings from the sampled jets,</div>
<div>where full circles are used for <i>Pythia</i> ratios and open circles</div>
<div class="e">for <i>Herwig</i>.</div>
</div>
<div class="c" style="left:3790px;top:542.5px">
<div>leading charged hadrons of flavour <i>h</i> = <i>π</i><sup>+</sup>, <i>K</i>, <i>p</i> (pions,</div>
<div class="e">kaons and protons), within the jets</div>
</div>
<div class="eq" style="left:3865px;top:627px">r<sub>c</sub>(X) = <span class="fr"><span>dσ<sub>hh</sub>/dX − dσ<sub>hh̄</sub>/dX</span><span>dσ<sub>hh</sub>/dX + dσ<sub>hh̄</sub>/dX</span></span><span class="n">&nbsp;&nbsp;&nbsp;&nbsp;&nbsp;&nbsp;,</span></div>
<div class="en" style="left:4138px;top:627px">(5)</div>
<div class="c" style="left:3790px;top:661px">
<div class="e">with respect to a given kinematic variable <i>X</i>.</div>
<div class="i">Therefore, <i>r<sub>c</sub></i> acts as a measure of the probability of</div>
<div>producing jets with a given LCP charge configuration,</div>
<div>with values ranging between −1 ≤ <i>r<sub>c</sub></i> ≤ 1: positive <i>r<sub>c</sub></i></div>
<div>means a greater probability of jets having both positive or</div>
<div>both negative LCP (same sign), while negative <i>r<sub>c</sub></i> signals</div>
<div>that jets tend to have both a positive and a negative</div>
<div>leading charges (opposite sign). This was recently shown</div>
<div class="e">as a direct test of the string breaking phenomenon.</div>
<div class="i">Since the definition of the <i>r<sub>c</sub></i> is meant to be sensi-</div>
<div>tive to hadronization via the two hardest hadrons, we</div>
<div>can study it as a function of the formation time de-</div>
<div>fined in Eq. (4). The charge ratio dependence on the</div>
<div>LCP formation time for jets with leading pions, kaons</div>
<div>and protons is shown in Fig. 5 [36], in the black, red</div>
<div>and blue markers, respectively, sampled from jets with</div>
<div>at least two identified charged particles. The analysis</div>
<div>of <i>Pythia</i>(<i>Herwig</i>) jets, corresponding to the charge ra-</div>
<div>tios in full(open) circle markers, reveals that 61%(66%)</div>
<div>have a leading pair of charged pions, 5%(3%) have lead-</div>
<div>ing kaons and 5%(6%) have leading protons, with the</div>
<div class="e">remaining jets having mixed-flavour LCP.</div>
<div class="i">Firstly, the charge ratios are shown to be overall nega-</div>
<div>tive, consistently across hadron species. However, the <i>r<sub>c</sub></i></div>
</div>
<div class="c cap" style="left:4188px;top:458px">
<div>FIG. 5. Charge ratios with respect to the LCP formation time</div>
<div>for jets with leading charged pions (black), kaons (red) and</div>
<div>protons (blue), where full circles are used for <i>Pythia</i> ratios</div>
<div class="e">and open circles for <i>Herwig</i>.</div>
</div>
<div class="c" style="left:4188px;top:566px">
<div>is clearly dependent on the formation time of the LCP.</div>
<div>For large <i>τ</i><sub>form, LCP</sub>, the charge ratios are approximately</div>
<div>constant at large negative values of <i>r<sub>c</sub></i>, particularly for</div>
<div><i>KK</i> and <i>pp</i> pairs within jets. In fact, jets with leading</div>
<div>protons have a near 100% probability of having <i>pp̄</i>, with</div>
<div>highly unlikely <i>pp</i> and <i>p̄p̄</i> configurations. This reveals</div>
<div>a strong preference towards the production of opposite</div>
<div>leading charged particles for late LCP jets. We recall</div>
<div>that RSD is a good proxy for the LCP for large <i>τ</i><sub>form, LCP</sub></div>
<div>and that <i>τ</i> reclustered trees will have the largest forma-</div>
<div>tion time values for the latest unclustering steps, i.e.,</div>
<div>in the last stages of the jet fragmentation pattern. As</div>
<div>such, large LCP formation time selects jets whose lead-</div>
<div>ing charged hadrons get resolved very late, making them</div>
<div>less likely to have subsequent branching randomizing the</div>
<div class="e">correlation between the charges.</div>
</div>
<div class="c" style="left:4188px;top:861.5px">
<div class="i">However, for small <i>τ</i><sub>form, LCP</sub>, the charge ratios be-</div>
<div>come significantly closer to zero, indicating a more equi-</div>
<div>table probability of having same and opposite sign LCP</div>
<div>jets. This result suggests a randomization of the LCP</div>
<div>charge profile for early LCP jets, for whom the lead-</div>
<div>ing charged particles are resolved early on the jet frag-</div>
<div>mentation pattern, with several following unclustering</div>
<div>steps that smear the charge correlation. In this forma-</div>
<div>tion time region, roughly around <i>τ</i><sub>form, LCP</sub> ≲ 5, <i>Pythia</i></div>
<div>noticeably diverges from the <i>Herwig</i> predictions for the</div>
<div>charge ratio. Therefore, we identify a transition region</div>
<div>(1 ≲ <i>τ</i><sub>form, LCP</sub> ≲ 5) fm/c, that matches the <i>τ<sub>form</sub></i> distri-</div>
<div>bution (Fig.4). The transition region is shaded in grey</div>
</div>

<script>
(function(){
const G=document.getElementById('g');let s='';
const R='#e00000',B='#1a1aff',K='#000';
function C(x,y,c,o,r){r=r||2.2;s+='<circle cx="'+x.toFixed(1)+'" cy="'+y.toFixed(1)+'" r="'+r+'" fill="'+(o?'#fff':c)+'" stroke="'+c+'" stroke-width="'+(o?1:0.5)+'"/>';}
function L(x1,y1,x2,y2,c,w,d){s+='<line x1="'+x1.toFixed(1)+'" y1="'+y1.toFixed(1)+'" x2="'+x2.toFixed(1)+'" y2="'+y2.toFixed(1)+'" stroke="'+(c||'#000')+'" stroke-width="'+(w||0.8)+'"'+(d?' stroke-dasharray="'+d+'"':'')+'/>';}
function I(a,x){if(x<=a[0])return a[1];for(let i=2;i<a.length;i+=2){if(x<=a[i]){const t=(x-a[i-2])/(a[i]-a[i-2]);return a[i-1]+t*(a[i+1]-a[i-1]);}}return a[a.length-1];}
function ser(xs,a,fx,fy,c,o,eb,jit){let k=0;for(const x of xs){let v=I(a,x);if(jit)v+=jit*Math.sin(k*2.7+1.3);k++;const X=fx(x),Y=fy(v);if(eb)L(X-eb,Y,X+eb,Y,c,0.7);C(X,Y,c,o);}}
function rng(a,b,st){const r=[];for(let x=a;x<=b+1e-9;x+=st)r.push(x);return r;}
function tx(f,vals,yb,yt,len){for(const v of vals){const X=f(v);L(X,yb,X,yb-len);if(yt!=null)L(X,yt,X,yt+len);}}
function ty(f,vals,xl,xr,len){for(const v of vals){const Y=f(v);L(xl,Y,xl+len,Y);if(xr!=null)L(xr,Y,xr-len,Y);}}
function lmin(a,b){const r=[];for(let d=Math.floor(a);d<=b;d++)for(let k=2;k<10;k++){const v=d+Math.log10(k);if(v>=a&&v<=b)r.push(v);}return r;}
// FIG1 top (page3 off 1854)
let o=1854;
let f1x=p=>o+157+6.33*p;
tx(f1x,rng(0,45,5),306,97,7);tx(f1x,rng(0,45,1),306,97,3.5);tx(f1x,rng(0,45,5),394,null,7);tx(f1x,rng(0,45,1),394,null,3.5);
let f1y=n=>97+35*n;ty(f1y,[0,1,2,3,4,5],o+157,o+444,7);ty(f1y,lmin(0,5.97).map(v=>Math.ceil(v)-v+Math.floor(v)-Math.floor(v)),o+157,o+444,3.5);
let r1y=r=>379-(r-1)*145;ty(r1y,[1,1.2,1.4],o+157,o+444,7);ty(r1y,rng(0.95,1.5,0.05),o+157,o+444,3.5);
let xs=[161,170,177,186,194,203,212,220,228,236,245,253,261,269];for(let x=277;x<=440;x+=8.2)xs.push(x);
const id=x=>o+x, iy=y=>y;
ser(xs,[161,104,170,141,177,160,186,172,194,173,203,164,212,171,220,180,228,188,236,194,245,200,253,206,261,211,269,216,350,254,440,297],id,iy,R,1,3);
ser(xs,[161,103,170,138,177,156,186,167,194,171,203,161,212,168,220,177,228,185,236,191,245,197,253,203,261,208,269,213,350,251,440,294],id,iy,R,0,3);
ser(xs,[161,386,170,347,177,326,186,318,194,341,203,354,212,350,236,347,269,344,317,339,350,338,406,335,414,338,422,330,430,338,440,337],id,iy,R,0,3,1.2);
// FIG1 bottom
let f2x=p=>o+185+8.7*(p-10);
tx(f2x,rng(10,40,5),649,441,7);tx(f2x,rng(8,40,1),649,441,3.5);tx(f2x,rng(10,40,5),734,null,7);tx(f2x,rng(8,40,1),734,null,3.5);
let f2y=n=>476+57.5*(n-1);ty(f2y,[1,2,3],o+160,o+446,7);
for(let d=0;d<4;d++)for(let k=2;k<10;k++){const n=d+1-Math.log10(k);const Y=f2y(n);if(Y>441&&Y<649){L(o+160,Y,o+163.5,Y);L(o+446,Y,o+442.5,Y);}}
let r2y=r=>689-(r-1)*330;ty(r2y,[0.9,1,1.1],o+160,o+446,7);ty(r2y,rng(0.88,1.12,0.02),o+160,o+446,3.5);
let xb=[];for(let x=163;x<=443;x+=8.7)xb.push(x);
ser(xb,[163,452,185,467,228,502,272,537,315,562,359,583,402,609,442,638],id,iy,R,1,3);
ser(xb,[163,450,185,465,228,500,272,535,315,560,359,581,402,607,442,636],id,iy,R,0,3);
ser(xb,[163,729,170,689,179,672,188,665,196,661,205,659,231,661,266,665,309,666,335,668,353,673,370,670,387,673,413,668,431,671,439,682,442,667],id,iy,R,0,3,2.5);
for(const x of xb.slice(20)){L(o+x,660,o+x,678,R,0.7);}
// FIG3 top (page4)
o=2781;
let g3x=r=>o+545+194*r,g3y=v=>304-80.8*v;
tx(g3x,rng(0,1.4,0.2),304,96,7);tx(g3x,rng(0,1.45,0.05),304,96,3.5);ty(g3y,rng(0,2.5,0.5),o+545,o+833,7);ty(g3y,rng(0,2.5,0.1),o+545,o+833,3.5);
let rs=rng(0.02,1.42,0.04);
const RSDo=[.02,.3,.06,1.08,.1,1.65,.14,2.0,.18,2.2,.22,2.2,.26,2.05,.3,1.85,.34,1.6,.38,1.35,.42,1.2,.46,1.05,.5,.9,.54,.8,.58,.72,.62,.65,.66,.6,.7,.55,.75,.48,.8,.42,.85,.35,.9,.28,.95,.2,1.0,.14,1.05,.08,1.1,.05,1.15,.03,1.2,.02,1.4,.01];
const LCPo=RSDo.map((v,i)=>i%2?v*0.95:v);
const RSDf=[.02,.45,.06,1.32,.1,2.0,.14,2.35,.18,2.4,.22,2.36,.26,2.17,.3,1.9,.34,1.66,.38,1.41,.42,1.2,.46,1.03,.5,.85,.54,.7,.58,.6,.62,.52,.66,.45,.7,.4,.75,.34,.8,.3,.85,.26,.9,.2,.95,.15,1.0,.11,1.05,.07,1.1,.05,1.15,.03,1.2,.02,1.4,.01];
const LCPf=[.02,.3,.06,1.3,.1,2.05,.14,2.38,.18,2.45,.22,2.35,.26,2.15,.3,1.88,.34,1.62,.38,1.38,.42,1.17,.46,1.0,.5,.82,.54,.68,.58,.57,.62,.48,.66,.42,.7,.36,.75,.3,.8,.26,.85,.21,.9,.16,.95,.12,1.0,.09,1.05,.06,1.1,.04,1.2,.02,1.4,.01];
const SDf=[.02,.04,.06,.18,.1,.38,.14,.6,.18,.85,.22,1.08,.26,1.26,.3,1.38,.34,1.45,.38,1.5,.42,1.5,.46,1.48,.5,1.45,.54,1.42,.58,1.38,.62,1.32,.66,1.25,.7,1.18,.74,1.08,.78,.98,.82,.85,.86,.7,.9,.55,.94,.38,.98,.2,1.02,.05,1.1,.01,1.4,0];
const SDo=[.02,.02,.06,.1,.1,.25,.14,.45,.18,.65,.22,.85,.26,1.0,.3,1.12,.34,1.2,.38,1.24,.42,1.25,.5,1.25,.58,1.27,.66,1.28,.7,1.27,.74,1.24,.78,1.18,.82,1.1,.86,1.0,.9,.85,.94,.7,.98,.45,1.02,.2,1.06,.03,1.4,0];
ser(rs,RSDo,g3x,g3y,K,1,3);ser(rs,LCPo,g3x,g3y,B,1,3);ser(rs,SDo,g3x,g3y,R,1,3);
ser(rs,RSDf,g3x,g3y,K,0,3);ser(rs,LCPf,g3x,g3y,B,0,3);ser(rs,SDf,g3x,g3y,R,0,3);
// legend markers fig3
C(o+747,221,R,0);C(o+747,232,K,0);C(o+747,243,B,0);C(o+788,221,R,1);C(o+788,232,K,1);C(o+788,243,B,1);
C(o+628,377,R,0);C(o+628,388,K,0);C(o+628,398,B,0);C(o+672,377,R,1);C(o+672,388,K,1);C(o+672,398,B,1);
// FIG3 bottom
let z3x=z=>o+547+715*(z-0.1),z3y=v=>557-32*v;
tx(z3x,rng(0.1,0.5,0.05),557,346,7);tx(z3x,rng(0.1,0.5,0.01),557,346,3.5);ty(z3y,rng(0,6,1),o+545,o+834,7);ty(z3y,rng(0,6.6,0.2),o+545,o+834,3.5);
let zs=rng(0.106,0.494,0.0125);
ser(zs,[.105,5.2,.13,4.5,.16,4.0,.19,3.5,.22,3.0,.26,2.5,.3,2.15,.34,1.9,.38,1.75,.42,1.65,.46,1.55,.5,1.5],z3x,z3y,R,1,5);
ser(zs,[.105,6.5,.125,5.3,.15,4.5,.175,3.9,.2,3.35,.22,3.0,.25,2.65,.28,2.3,.31,2.05,.34,1.85,.38,1.65,.42,1.5,.46,1.35,.5,1.2],z3x,z3y,R,0,5);
ser(zs,[.11,.3,.14,.6,.17,.95,.2,1.4,.23,1.9,.26,2.3,.3,2.75,.34,3.1,.38,3.4,.42,3.6,.46,3.8,.5,4.0],z3x,z3y,K,1,5);
ser(zs,[.11,.4,.14,.7,.17,1.05,.2,1.5,.23,2.0,.26,2.4,.3,2.8,.34,3.1,.38,3.35,.42,3.5,.46,3.6,.5,3.75],z3x,z3y,K,0,5);
ser(zs,[.11,.2,.14,.35,.17,.55,.2,.8,.23,1.1,.26,1.5,.3,1.9,.34,2.5,.38,3.2,.42,4.0,.46,4.9,.5,5.9],z3x,z3y,B,1,5);
ser(zs,[.11,.3,.14,.5,.17,.75,.2,1.0,.23,1.3,.26,1.7,.3,2.1,.34,2.7,.38,3.3,.42,3.9,.46,4.5,.5,5.25],z3x,z3y,B,0,5);
// FIG4 (page5)
o=3708;
let f4x=l=>o+208.8+33.3*l,f4y=lv=>97-14.42*lv,r4y=lr=>353.4-23.3*lr;
tx(f4x,rng(-1,7,1),297,92,7);tx(f4x,lmin(-1.47,7),297,92,3.5);tx(f4x,rng(-1,7,1),386,null,7);tx(f4x,lmin(-1.47,7),386,null,3.5);
ty(f4y,rng(-13,0,1),o+160,o+443,6);ty(r4y,[-1,0,1,2],o+160,o+443,6);ty(r4y,lmin(-1.4,2.4),o+160,o+443,3);
L(o+210,92,o+210,386,K,1,'2,2');L(o+231,92,o+231,386,K,1,'2,2');L(o+160,353.4,o+443,353.4,K,1,'2,2');
let ls=rng(-1.4,6.9,0.2);
const Bf=[-1.4,-3.9,-1.2,-2.0,-1.0,-1.2,-0.6,-0.7,-0.2,-0.45,0.2,-0.5,0.6,-0.9,1,-1.7,2,-4.0,3,-6.3,4,-8.0,5,-9.6,6,-11.3,6.9,-13.2];
const Kf=[-1.4,-1.75,-1.0,-0.9,-0.6,-0.4,-0.2,-0.3,0.2,-0.45,0.6,-0.9,1,-1.7,2,-4.0,3,-6.3,4,-8.0,5,-9.8,6,-11.6,6.9,-13.4];
const Rf=[-1.4,-1.4,-1.0,-0.6,-0.6,-0.1,-0.2,0,0.2,-0.3,0.6,-1.0,1,-2.7,2,-5.3,3,-7.6,4,-9.5,5,-11.0,6,-12.3,6.6,-13];
const sh=(a,d)=>a.map((v,i)=>i%2?v+d:v);
const ls2=ls.filter(l=>l<=6.7);
ser(ls,sh(Bf,-0.2),f4x,f4y,B,1,2);ser(ls,sh(Kf,-0.15),f4x,f4y,K,1,2);ser(ls2,sh(Rf,0.3),f4x,f4y,R,1,2);
ser(ls,Bf,f4x,f4y,B,0,2);ser(ls,Kf,f4x,f4y,K,0,2);ser(ls2,Rf,f4x,f4y,R,0,2);
const RR=[-1.4,2.2,-1.0,1.3,-0.6,0.9,-0.2,0.5,0.2,0.1,0.6,-0.3,1,-0.6,1.5,-0.85,2,-0.95,3,-1.0,4,-1.0,5,-0.95,5.6,-0.8,6.5,-0.7];
const KR=[-1.4,1.4,-1,0.9,-0.6,0.55,-0.2,0.3,0.2,0.05,0.6,-0.1,1,-0.1,1.5,-0.05,2,0,6.9,0];
ser(ls2,sh(RR,0.1),f4x,r4y,R,1,2);ser(ls,sh(KR,0.03),f4x,r4y,K,1,2);
ser(ls2,RR,f4x,r4y,R,0,2);ser(ls,KR,f4x,r4y,K,0,2);
C(o+291,263,R,0);C(o+291,273,K,0);C(o+291,284,B,0);C(o+334,263,R,1);C(o+334,273,K,1);C(o+334,284,B,1);
L(o+303,320,o+313,320,R);C(o+308,320,R,0);L(o+303,332,o+313,332,K);C(o+308,332,K,0);
L(o+373,320,o+383,320,R);C(o+378,320,R,1);L(o+373,332,o+383,332,K);C(o+378,332,K,1);
// FIG5
let f5x=l=>o+618+69.7*l,f5y=v=>174-196*v;
tx(f5x,[-1,0,1,2,3],390,97,8);tx(f5x,lmin(-1.06,3.03),390,97,4);ty(f5y,rng(-1,0.4,0.2),o+544,o+829,8);ty(f5y,rng(-1.1,0.4,0.05),o+544,o+829,4);
L(o+544,174,o+829,174,K,1.2,'2,2');L(o+619,194,o+619,390,K,1.2,'2,2');L(o+666,194,o+666,390,K,1.2,'2,2');
let l5=[-0.9,-0.65,-0.4,-0.15,0.1,0.35,0.6,0.85,1.1,1.35,1.6,1.85,2.1,2.35,2.6,2.85];
ser(l5,[-0.9,-0.06,-0.65,-0.09,-0.4,-0.15,-0.15,-0.22,0.1,-0.27,0.35,-0.35,0.6,-0.4,1.1,-0.42,1.35,-0.41,1.6,-0.37,2.1,-0.33,2.6,-0.28,2.85,-0.25],f5x,f5y,K,1,8);
ser(l5,[-0.9,-0.12,-0.65,-0.21,-0.4,-0.29,-0.15,-0.34,0.1,-0.37,0.35,-0.39,0.6,-0.4,0.85,-0.41,1.1,-0.41,1.35,-0.4,1.6,-0.38,1.85,-0.37,2.1,-0.34,2.35,-0.32,2.6,-0.31,2.85,-0.3],f5x,f5y,K,0,8);
ser(l5,[-0.9,-0.41,-0.65,-0.44,-0.4,-0.54,-0.15,-0.62,0.1,-0.67,0.35,-0.71,0.6,-0.74,0.85,-0.76,1.1,-0.79,1.6,-0.83,2.1,-0.85,2.85,-0.86],f5x,f5y,R,1,8);
ser(l5,[-0.9,-0.4,-0.65,-0.56,-0.4,-0.68,-0.15,-0.76,0.1,-0.79,0.35,-0.8,0.6,-0.81,1,-0.83,1.5,-0.84,2,-0.85,2.85,-0.86],f5x,f5y,R,0,8);
ser(l5,[-0.9,-0.69,-0.65,-0.88,-0.4,-0.94,-0.15,-0.96,0.1,-0.97,1,-0.98,2,-0.99,2.85,-0.99],f5x,f5y,B,1,8);
ser(l5,[-0.9,-0.65,-0.65,-0.81,-0.4,-0.89,-0.15,-0.93,0.1,-0.95,0.5,-0.96,1,-0.97,2,-0.98,2.85,-0.98],f5x,f5y,B,0,8);
for(const l of [2.35,2.6,2.85]){L(f5x(l),f5y(-0.8),f5x(l),f5y(-0.9),R,0.7);L(f5x(l),f5y(-0.94),f5x(l),f5y(-1.03),B,0.7);}
L(f5x(-0.9),f5y(-0.36),f5x(-0.9),f5y(-0.45),R,0.7);L(f5x(-0.9),f5y(-0.6),f5x(-0.9),f5y(-0.75),B,0.7);
C(o+731,126,K,0);C(o+731,142,R,0);C(o+731,158,B,0);C(o+781,126,K,1);C(o+781,142,R,1);C(o+781,158,B,1);
G.innerHTML=s;
})();
</script>
</body></html>
